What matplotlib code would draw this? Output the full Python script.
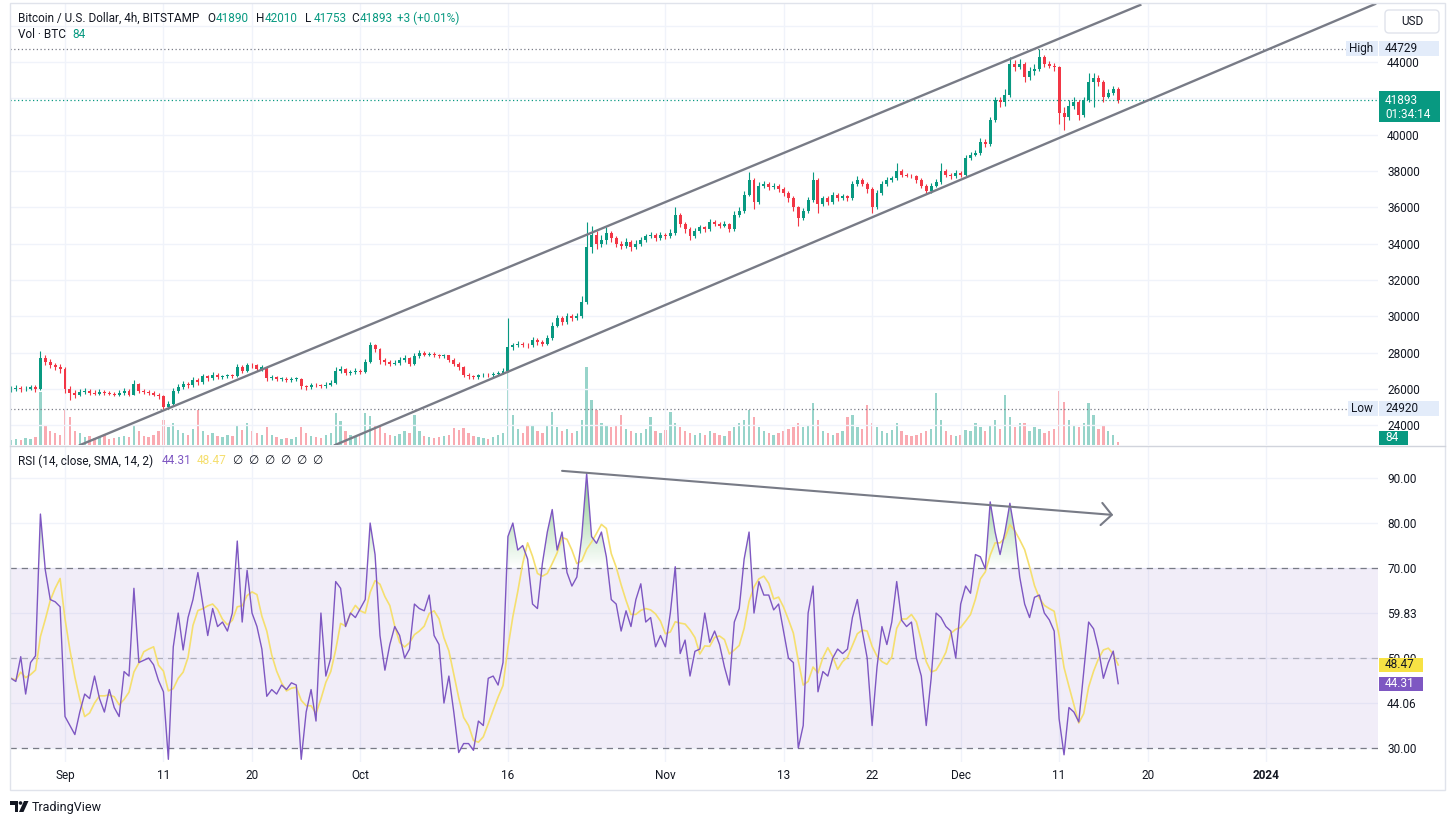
# %% imports
import numpy as np
import pandas as pd
import matplotlib
matplotlib.use('Agg')
import matplotlib.pyplot as plt
import matplotlib.dates as mdates
from matplotlib.colors import LinearSegmentedColormap
from matplotlib.patches import Rectangle, Polygon, FancyBboxPatch, Circle
from matplotlib.path import Path

plt.rcParams['font.family'] = ['Roboto', 'DejaVu Sans']

# %% data (BTC/USD at 12h steps)
start = '2023-08-26 12:00'

close = [
    26000, 26050, 25980, 26020, 26100, 26000, 27700, 27500, 27300, 27200,
    27100, 26000, 25800, 25700, 25850, 25900, 25800, 25750, 25850, 25800,
    25750, 25700, 25800, 25900, 25700, 26300, 25900, 25850, 25800, 25700,
    25600, 25000, 25200, 25900, 26100, 26300, 26200, 26500, 26400, 26700,
    26600, 26800, 26650, 26700, 26750, 26700, 27200, 27000, 27350, 27300,
    27100, 27200, 26600, 26650, 26550, 26550, 26500, 26550, 26550, 26150,
    26100, 26250, 26200, 26150, 26250, 26350, 27000, 27100, 26900, 26950,
    27000, 26950, 27500, 28400, 28200, 27600, 27500, 27400, 27450, 27600,
    27700, 27400, 27800, 28000, 27900, 27950, 27850, 27800, 27850, 27600,
    27400, 27200, 26800, 26700, 26650, 26750, 26800, 26750, 26850, 26900,
    27000, 28300, 28400, 28500, 28450, 28400, 28700, 28600, 28500, 28800,
    29500, 29900, 29700, 30000, 29900, 30000, 30800, 33800, 34500, 34000,
    34200, 34600, 34300, 34000, 33900, 34100, 33800, 34000, 34200, 34400,
    34500, 34300, 34500, 34400, 34600, 35600, 35100, 34800, 34400, 34700,
    34900, 34800, 35200, 35100, 35000, 35100, 34800, 35600, 35800, 36700,
    37500, 36300, 37200, 37300, 37100, 37200, 37000, 36800, 36500, 36000,
    35400, 35800, 36400, 37500, 36200, 36500, 36300, 36700, 36500, 36600,
    36500, 37300, 37500, 37300, 37000, 36000, 36800, 37300, 37500, 37600,
    38000, 37800, 37750, 37700, 37500, 37200, 36900, 37200, 37400, 38000,
    37800, 37700, 37900, 37800, 38700, 38900, 39000, 39600, 39500, 40800,
    41900, 41800, 42200, 43900, 43700, 43900, 43200, 43500, 43600, 44300,
    43900, 43800, 43700, 41200, 41000, 41600, 41800, 41100, 41900, 42900,
    43100, 42900, 42100, 42300, 42500, 41893]

high = [
    26150, 26200, 26150, 26150, 26250, 26200, 28100, 27850, 27650, 27450,
    27400, 27200, 26150, 25950, 26000, 26050, 26000, 25950, 26000, 25950,
    25900, 25850, 25950, 26050, 26000, 26500, 26350, 26000, 25950, 25900,
    25800, 25700, 25350, 26050, 26300, 26450, 26400, 26650, 26600, 26850,
    26800, 26950, 26900, 26800, 26850, 26850, 27400, 27300, 27450, 27450,
    27400, 27350, 27250, 26750, 26700, 26650, 26650, 26650, 26650, 26600,
    26250, 26350, 26350, 26300, 26400, 26500, 27200, 27250, 27150, 27050,
    27150, 27100, 27650, 28580, 28500, 28250, 27700, 27600, 27600, 27750,
    27850, 27750, 28000, 28150, 28100, 28050, 28050, 27950, 27950, 27900,
    27700, 27500, 27250, 26900, 26800, 26850, 26900, 26900, 26950, 27000,
    27150, 29900, 28550, 28650, 28600, 28550, 28850, 28800, 28700, 28950,
    29700, 30100, 30000, 30200, 30150, 30200, 31100, 35200, 35000, 34700,
    34500, 34900, 34700, 34400, 34150, 34300, 34200, 34200, 34350, 34550,
    34650, 34600, 34650, 34600, 34800, 36000, 35700, 35200, 34900, 34850,
    35050, 35000, 35350, 35300, 35200, 35250, 35150, 35800, 36000, 36900,
    37950, 37600, 37400, 37450, 37400, 37350, 37300, 37100, 36900, 36600,
    36100, 35950, 36550, 37950, 37600, 36650, 36600, 36850, 36800, 36750,
    36700, 37450, 37700, 37600, 37400, 37100, 36950, 37450, 37650, 37750,
    38450, 38100, 37900, 37850, 37800, 37600, 37300, 37350, 37550, 38450,
    38100, 37900, 38050, 38000, 38900, 39050, 39150, 39800, 39750, 41000,
    42100, 42100, 42500, 44300, 44100, 44150, 44000, 43700, 43900, 44729,
    44400, 44050, 43950, 43800, 41500, 41900, 42100, 41900, 42100, 43400,
    43400, 43300, 43000, 42500, 42700, 42600]

low = [
    25850, 25900, 25850, 25880, 25950, 25850, 25950, 27350, 27150, 27050,
    26900, 25800, 25400, 25500, 25600, 25750, 25700, 25650, 25650, 25700,
    25650, 25600, 25600, 25700, 25600, 25650, 25800, 25750, 25700, 25600,
    25450, 24920, 24950, 25150, 25800, 26000, 26050, 26100, 26250, 26300,
    26450, 26500, 26550, 26550, 26600, 26600, 26650, 26900, 26950, 27150,
    27000, 27000, 26450, 26500, 26450, 26450, 26400, 26400, 26450, 26000,
    25950, 26000, 26100, 26050, 26050, 26150, 26300, 26900, 26800, 26800,
    26850, 26850, 26900, 27450, 28050, 27400, 27350, 27250, 27300, 27350,
    27500, 27250, 27350, 27700, 27800, 27800, 27750, 27700, 27700, 27500,
    27250, 27050, 26650, 26550, 26550, 26550, 26650, 26650, 26650, 26750,
    26850, 26950, 28150, 28300, 28300, 28250, 28300, 28450, 28350, 28400,
    28700, 29400, 29550, 29600, 29750, 29800, 29900, 30700, 33500, 33700,
    33800, 34000, 34100, 33800, 33700, 33750, 33600, 33700, 33900, 34100,
    34300, 34150, 34200, 34250, 34300, 34500, 34900, 34600, 34200, 34300,
    34600, 34650, 34700, 34950, 34850, 34900, 34650, 34700, 35450, 35700,
    36600, 35900, 36200, 37050, 36950, 37000, 36850, 36650, 36300, 35800,
    35000, 35300, 35700, 36300, 35700, 36100, 36150, 36200, 36350, 36400,
    36350, 36400, 37200, 37150, 36800, 35700, 35900, 36700, 37200, 37400,
    37500, 37650, 37650, 37600, 37350, 37050, 36750, 36800, 37100, 37300,
    37650, 37550, 37600, 37650, 37700, 38600, 38800, 38900, 39350, 39400,
    40700, 41500, 41600, 42100, 43500, 43600, 42900, 43000, 43300, 43500,
    43700, 43650, 43500, 40600, 40250, 40800, 41400, 40800, 41000, 41800,
    41500, 42700, 41800, 42000, 42200, 41753]

volume = [
    125, 150, 125, 175, 150, 200, 1325, 500, 350, 300,
    250, 875, 700, 350, 300, 200, 225, 175, 200, 250,
    150, 175, 200, 225, 200, 500, 350, 225, 200, 250,
    350, 625, 450, 550, 375, 300, 250, 400, 875, 350,
    250, 300, 225, 200, 250, 225, 500, 375, 550, 350,
    300, 250, 450, 250, 200, 150, 175, 150, 200, 450,
    300, 225, 200, 175, 250, 300, 800, 600, 350, 250,
    200, 225, 800, 725, 500, 450, 300, 250, 225, 275,
    350, 300, 750, 350, 225, 200, 175, 200, 225, 250,
    425, 375, 425, 300, 225, 200, 175, 150, 200, 250,
    300, 1950, 750, 400, 300, 500, 500, 350, 300, 500,
    825, 450, 350, 400, 300, 350, 625, 1950, 1125, 875,
    550, 500, 450, 500, 750, 400, 350, 300, 300, 400,
    700, 350, 300, 375, 825, 550, 450, 350, 300, 250,
    300, 250, 350, 300, 250, 225, 350, 450, 550, 625,
    875, 700, 450, 350, 300, 250, 300, 350, 400, 450,
    550, 450, 500, 1050, 625, 350, 300, 250, 300, 350,
    700, 750, 450, 400, 1000, 550, 450, 350, 300, 375,
    550, 350, 250, 225, 250, 300, 350, 400, 1300, 625,
    350, 250, 225, 250, 375, 350, 550, 450, 350, 500,
    625, 400, 1250, 700, 450, 550, 550, 350, 450, 400,
    300, 350, 400, 1350, 1075, 625, 500, 450, 550, 1050,
    750, 400, 500, 350, 250, 84]

rsi = [
    45.5, 44.8, 50.3, 42, 49, 50.5, 82, 69.5, 63, 62.5,
    61.4, 37, 35, 33, 38, 42, 41, 46, 41, 38,
    43, 39, 37, 47, 46, 65.5, 49, 49.5, 50, 48.5,
    45, 42.5, 27.5, 52.5, 60, 51.8, 59, 63, 69, 62,
    55, 61, 57, 58, 56, 60, 76, 58, 69.5, 60,
    57, 52, 41.5, 43, 42, 44, 43, 44.5, 44, 27.5,
    38, 43, 36, 60, 46, 50, 67, 65.5, 57, 60,
    59, 61, 63, 80, 73, 55, 47.3, 53, 57, 55,
    50, 52, 62, 61, 60.5, 64, 55, 53, 40, 46,
    38, 29, 31, 31, 29.5, 36, 35, 45.5, 46, 44,
    49, 77, 80, 74, 75, 72, 62, 61, 71, 78,
    83, 74, 78, 69, 66, 68, 77, 91, 77, 75.5,
    78, 72.5, 63, 62, 56, 60.5, 57, 63, 66.5, 58,
    59, 52.5, 55, 52.5, 60, 70.3, 51, 54, 46, 51.5,
    52, 60, 53.5, 56, 53, 48, 44, 58, 61, 72,
    78, 60, 67, 64, 64, 60.7, 62, 56, 50, 49,
    30, 35, 60, 66, 42.5, 47, 46, 50, 52, 51,
    52, 59, 63, 56, 50, 35, 48, 57, 53, 58,
    67, 58.4, 57, 58, 50, 46, 35, 45.5, 60, 59,
    57, 56, 50, 62, 66, 64.4, 73, 72.5, 69.8, 84.7,
    78, 73, 78, 84.4, 78, 68, 62, 59, 63.5, 64,
    60, 58.5, 56, 36.5, 28.5, 39, 38, 35.8, 47, 58,
    56.5, 52, 45.5, 49, 51.55, 44.31]

# drawings on the chart
channel_upper = (['2023-09-02 12:30', '2023-12-19 06:00'], [22920, 47140])
channel_lower = (['2023-09-28 10:20', '2024-01-12 02:30'], [22920, 47190])
rsi_divergence = (['2023-10-21 12:00', '2023-12-16 12:00'], [91.6, 81.8])

tick_dates = ['2023-09-01', '2023-09-11', '2023-09-20', '2023-10-01', '2023-10-16',
              '2023-11-01', '2023-11-13', '2023-11-22', '2023-12-01', '2023-12-11',
              '2023-12-20', '2024-01-01']
tick_labels = ['Sep', '11', '20', 'Oct', '16', 'Nov', '13', '22', 'Dec', '11', '20', '2024']
price_ticks = list(range(24000, 46001, 2000))
rsi_ticks = [90, 80, 70, 60, 50, 40, 30]
rsi_tick_labels = ['90.00', '80.00', '70.00', '59.83', '50.00', '44.06', '30.00']

high_mark, low_mark = 44729, 24920
last_open, last_high, last_low, last_close = 41890, 42010, 41753, 41893
last_vol = 84

# %% derived
dates = pd.date_range(start, periods=len(close), freq='12h')
x = mdates.date2num(dates.to_pydatetime())
c = np.array(close, float)
o = np.r_[25950, c[:-1]]
h = np.array(high, float)
l = np.array(low, float)
v = np.array(volume, float)
r = np.array(rsi, float)
# RSI-based MA (14 x 4h bars ~ 5 x 12h steps)
rsi_ma = pd.Series(r).rolling(5, min_periods=1).mean().values
up = c >= o

UP, DN = '#089981', '#f23645'
TXT = '#131722'
GRID = '#f0f3fa'
LINE = '#787b86'
PURPLE = '#7e57c2'
YELLOW = '#f5df6f'

W, H = 1454, 825
fig = plt.figure(figsize=(W / 100, H / 100), dpi=100)


def box(left, top, right, bottom):
    return [left / W, 1 - bottom / H, (right - left) / W, (bottom - top) / H]


vax = fig.add_axes(box(10, 3, 1378, 445))
ax = fig.add_axes(box(10, 3, 1378, 445), sharex=vax)
ax2 = fig.add_axes(box(10, 447, 1378, 762), sharex=vax)
ax.patch.set_visible(False)

x0 = x[0] - 0.09
x1 = x[0] + 138.9
ax.set_xlim(x0, x1)
ax.set_ylim(22924, 47247)
vax.set_ylim(0, 442 * 25)
ax2.set_ylim(26.9, 96.9)

for a in (ax, ax2, vax):
    for s in a.spines.values():
        s.set_visible(False)

# volume
vax.bar(x, v, width=0.24, color=np.where(up, UP, DN), alpha=0.42, linewidth=0)
vax.set_yticks([])
vax.tick_params(length=0, labelbottom=False)

# candles
col = np.where(up, UP, DN)
ax.vlines(x, l, h, colors=col, linewidth=0.8, zorder=3)
body_lo = np.minimum(o, c)
body_h = np.maximum(np.abs(c - o), 40)
ax.bar(x, body_h, bottom=body_lo, width=0.3, color=col, linewidth=0, zorder=4)

# channel
ax.plot(mdates.datestr2num(channel_upper[0]), channel_upper[1], color=LINE, lw=1.7, zorder=5)
ax.plot(mdates.datestr2num(channel_lower[0]), channel_lower[1], color=LINE, lw=1.7, zorder=5)

# marker lines
ax.axhline(high_mark, color=LINE, lw=0.9, ls=(0, (1, 2)), zorder=2)
ax.axhline(low_mark, color=LINE, lw=0.9, ls=(0, (1, 2)), zorder=2)
ax.axhline(last_close, color=UP, lw=0.9, ls=(0, (1, 2)), zorder=2)

# grid + ticks
tx = mdates.datestr2num(tick_dates)
ax2.set_xticks(tx, tick_labels)
# 46000 sits under the USD box, so its label stays empty
ax.set_yticks(price_ticks, [str(t) if t < 46000 else '' for t in price_ticks])
ax.yaxis.tick_right()
ax.tick_params(axis='x', length=0, labelbottom=False)
ax.tick_params(axis='y', length=0, pad=6.5, labelsize=8.5, labelcolor=TXT)
ax.grid(True, color=GRID, lw=1, zorder=0)
ax.set_axisbelow(True)

ax2.yaxis.tick_right()
ax2.set_yticks(rsi_ticks, rsi_tick_labels)
ax2.tick_params(axis='y', length=0, pad=6.5, labelsize=8.5, labelcolor=TXT)
ax2.tick_params(axis='x', length=0, pad=5, labelsize=8.5, labelcolor=TXT)
ax2.get_xticklabels()[-1].set_fontweight('bold')
ax2.grid(True, color=GRID, lw=1, zorder=0)
ax2.set_axisbelow(True)

# RSI band
ax2.axhspan(30, 70, color=PURPLE, alpha=0.1, lw=0, zorder=1)
ax2.axhline(70, color=LINE, lw=0.9, ls=(0, (5, 4)), zorder=2)
ax2.axhline(30, color=LINE, lw=0.9, ls=(0, (5, 4)), zorder=2)
ax2.axhline(50, color=LINE, lw=0.9, ls=(0, (5, 4)), alpha=0.5, zorder=2)

# overbought / oversold gradient fills
grad = np.linspace(0, 1, 256).reshape(-1, 1)
green = LinearSegmentedColormap.from_list('g', [(0.30, 0.69, 0.31, 0.0), (0.30, 0.69, 0.31, 0.95)])
red = LinearSegmentedColormap.from_list('r', [(0.95, 0.21, 0.27, 0.9), (0.95, 0.21, 0.27, 0.0)])
for lo_, hi_, ref, cmap, cond in [(70, 100, 70, green, r > 70), (0, 30, 30, red, r < 30)]:
    poly = ax2.fill_between(x, r, ref, where=cond, interpolate=True, color='none', lw=0)
    paths = poly.get_paths()
    if paths:
        img = ax2.imshow(grad, extent=[x0, x1, lo_, hi_], origin='lower', cmap=cmap,
                         aspect='auto', zorder=2, interpolation='bilinear')
        img.set_clip_path(Path.make_compound_path(*paths), transform=ax2.transData)

ax2.plot(x, rsi_ma, color=YELLOW, lw=1.2, zorder=3)
ax2.plot(x, r, color=PURPLE, lw=1.0, zorder=4)
ax2.annotate('', xy=(mdates.datestr2num(rsi_divergence[0][1]), rsi_divergence[1][1]),
             xytext=(mdates.datestr2num(rsi_divergence[0][0]), rsi_divergence[1][0]),
             arrowprops=dict(arrowstyle='->,head_length=0.75,head_width=0.8', color=LINE,
                             lw=1.5, shrinkA=0, shrinkB=0), zorder=6)
ax.set_xlim(x0, x1)
ax2.set_ylim(26.9, 96.9)

# %% overlay in pixel space: header, tags, frame
ov = fig.add_axes([0, 0, 1, 1], zorder=20)
ov.set_xlim(0, W)
ov.set_ylim(H, 0)
ov.axis('off')
ov.patch.set_visible(False)


def ypx(a, val):
    return H - a.transData.transform((x0, val))[1]


def txt(xp, yp, s, color=TXT, size=8.5, **kw):
    ov.text(xp, yp, s, color=color, fontsize=size, va='center', ha=kw.pop('ha', 'left'), **kw)


# frame and separators
ov.add_patch(Rectangle((9.5, 3), 1435.5, 787, fill=False, ec='#e0e3eb', lw=1))
ov.plot([10, 1445], [446, 446], color='#d1d4dc', lw=1)

# header
txt(18, 18, 'Bitcoin / U.S. Dollar, 4h, BITSTAMP')
for lab, val, xp in [('O', last_open, 207), ('H', last_high, 256), ('L', last_low, 305), ('C', last_close, 351)]:
    txt(xp, 18, lab)
    txt(xp + 9, 18, str(val), color=UP)
txt(397, 18, f'+{last_close - last_open} (+0.01%)', color=UP)
txt(18, 35, 'Vol · BTC')
txt(72, 35, str(last_vol), color=UP)

txt(18, 461, 'RSI (14, close, SMA, 14, 2)')
txt(162, 461, f'{r[-1]:.2f}', color=PURPLE)
txt(197, 461, f'{rsi_ma[-1]:.2f}', color=YELLOW)
for k in range(6):
    txt(232 + 16 * k, 461, '∅', size=8.5)

# USD box
ov.add_patch(FancyBboxPatch((1385, 10), 54, 23, boxstyle='round,pad=0,rounding_size=4',
                            fc='white', ec='#e0e3eb', lw=1))
txt(1412, 21.5, 'USD', ha='center')


def tag(yp, s, bg, fg, xl=1379, w=60, hgt=15):
    ov.add_patch(Rectangle((xl, yp - hgt / 2), w, hgt, fc=bg, ec='none'))
    txt(xl + 6, yp, s, color=fg)


LIGHT = '#e3ecfa'
yh = ypx(ax, high_mark)
tag(yh, str(high_mark), LIGHT, TXT)
ov.add_patch(Rectangle((1346, yh - 7.5), 32, 15, fc=LIGHT, ec='none'))
txt(1349, yh, 'High')
yl = ypx(ax, low_mark)
tag(yl, str(low_mark), LIGHT, TXT)
ov.add_patch(Rectangle((1348, yl - 7.5), 30, 15, fc=LIGHT, ec='none'))
txt(1351, yl, 'Low')

yc = ypx(ax, last_close)
ov.add_patch(Rectangle((1379, yc - 9), 61, 31, fc=UP, ec='none'))
txt(1385, yc, str(last_close), color='white')
txt(1385, yc + 14, '01:34:14', color='white')

yv = ypx(vax, last_vol) - 4
tag(yv, str(last_vol), UP, 'white', w=29, hgt=14)

tag(ypx(ax2, rsi_ma[-1]), f'{rsi_ma[-1]:.2f}', '#f7e244', TXT, w=44, hgt=14)
tag(ypx(ax2, r[-1]), f'{r[-1]:.2f}', PURPLE, 'white', w=44, hgt=14)

# TradingView logo
ov.add_patch(Polygon([(10, 801), (18, 801), (18, 812), (14.5, 812), (14.5, 804.5), (10, 804.5)],
                     closed=True, fc=TXT, ec='none'))
ov.add_patch(Circle((20.5, 803), 1.8, fc=TXT, ec='none'))
ov.add_patch(Polygon([(24, 801), (28.5, 801), (23.5, 812), (19, 812)], closed=True, fc=TXT, ec='none'))
txt(32, 807, 'TradingView', size=9)

fig.savefig('out.png', dpi=100, facecolor='white')
